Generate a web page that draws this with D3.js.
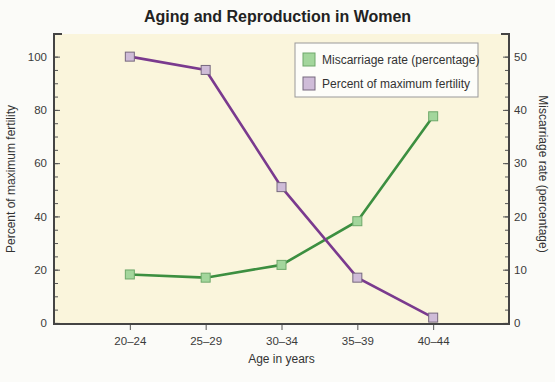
<!DOCTYPE html>
<html>
<head>
<meta charset="utf-8">
<script src="https://cdn.jsdelivr.net/npm/d3@7"></script>
<style>
  html, body { margin: 0; padding: 0; background: #fbfbf8; }
  svg { display: block; font-family: "Liberation Sans", Arial, sans-serif; }
</style>
</head>
<body>
<div id="chart"></div>
<script>
const ageGroups = ["20–24", "25–29", "30–34", "35–39", "40–44"];
const fertility = [100, 95, 51, 17, 2];
const miscarriage = [9.1, 8.5, 10.9, 19.1, 38.8];
const leftTicks = [0, 20, 40, 60, 80, 100];
const rightTicks = [0, 10, 20, 30, 40, 50];

const width = 555;
const height = 382;
const plot = { left: 54, right: 509, top: 34, bottom: 324 };

const svg = d3.select("#chart")
  .append("svg")
  .attr("width", width)
  .attr("height", height);

const x = d3.scalePoint()
  .domain(ageGroups)
  .range([plot.left, plot.right])
  .padding(1);

const yLeft = d3.scaleLinear()
  .domain([-0.4, 108.5])
  .range([plot.bottom, plot.top]);

const yRight = d3.scaleLinear()
  .domain([-0.2, 54.25])
  .range([plot.bottom, plot.top]);

svg.append("rect")
  .attr("x", plot.left)
  .attr("y", plot.top)
  .attr("width", plot.right - plot.left)
  .attr("height", plot.bottom - plot.top)
  .attr("fill", "#faf5dc");

// title
svg.append("text")
  .attr("x", width / 2)
  .attr("y", 22)
  .attr("text-anchor", "middle")
  .attr("font-size", 16)
  .attr("font-weight", "bold")
  .attr("fill", "#222")
  .text("Aging and Reproduction in Women");

const styleAxis = (g) => {
  g.select(".domain").remove();
  g.selectAll(".tick line").attr("stroke", "#555");
  g.selectAll(".tick text").attr("fill", "#3a3a3a").attr("font-size", 11.5);
};

// minor ticks
svg.append("g")
  .attr("transform", `translate(${plot.left},0)`)
  .call(d3.axisRight(yLeft).tickValues(d3.range(0, 105, 5)).tickSize(4).tickFormat(""))
  .call(styleAxis);

svg.append("g")
  .attr("transform", `translate(${plot.right},0)`)
  .call(d3.axisLeft(yRight).tickValues(d3.range(0, 52.5, 2.5)).tickSize(4).tickFormat(""))
  .call(styleAxis);

// major ticks (inside) + labels (outside)
svg.append("g")
  .attr("transform", `translate(${plot.left},0)`)
  .call(d3.axisRight(yLeft).tickValues(leftTicks).tickSize(6).tickFormat(""))
  .call(styleAxis);

svg.append("g")
  .attr("transform", `translate(${plot.left},0)`)
  .call(d3.axisLeft(yLeft).tickValues(leftTicks).tickSize(0).tickPadding(7))
  .call(styleAxis);

svg.append("g")
  .attr("transform", `translate(${plot.right},0)`)
  .call(d3.axisLeft(yRight).tickValues(rightTicks).tickSize(6).tickFormat(""))
  .call(styleAxis);

svg.append("g")
  .attr("transform", `translate(${plot.right},0)`)
  .call(d3.axisRight(yRight).tickValues(rightTicks).tickSize(0).tickPadding(5))
  .call(styleAxis);

svg.append("g")
  .attr("transform", `translate(0,${plot.bottom})`)
  .call(d3.axisBottom(x).tickSize(6).tickPadding(7))
  .call(styleAxis);

// frame: left, right, bottom lines + top caps
const frame = svg.append("g").attr("stroke", "#444").attr("stroke-width", 2).attr("fill", "none");
frame.append("path")
  .attr("d", `M${plot.left + 8},${plot.top} H${plot.left} V${plot.bottom} H${plot.right} V${plot.top} H${plot.right - 8}`);

// axis titles
svg.append("text")
  .attr("transform", `translate(15,${(plot.top + plot.bottom) / 2}) rotate(-90)`)
  .attr("text-anchor", "middle")
  .attr("font-size", 12)
  .attr("fill", "#333")
  .text("Percent of maximum fertility");

svg.append("text")
  .attr("transform", `translate(539,${(plot.top + plot.bottom) / 2 - 5}) rotate(90)`)
  .attr("text-anchor", "middle")
  .attr("font-size", 12)
  .attr("fill", "#333")
  .text("Miscarriage rate (percentage)");

svg.append("text")
  .attr("x", x("30–34"))
  .attr("y", 363)
  .attr("text-anchor", "middle")
  .attr("font-size", 12)
  .attr("fill", "#333")
  .text("Age in years");

const series = [
  { label: "Miscarriage rate (percentage)", values: miscarriage, y: yRight, line: "#3c8f40", fill: "#a3d69c", stroke: "#6ea86a" },
  { label: "Percent of maximum fertility", values: fertility, y: yLeft, line: "#7a3a8e", fill: "#cfbcd8", stroke: "#76687e" },
];

series.forEach((s) => {
  const pts = ageGroups.map((g, i) => ({ g, v: s.values[i] }));
  const line = d3.line().x((d) => x(d.g)).y((d) => s.y(d.v));
  svg.append("path")
    .datum(pts)
    .attr("fill", "none")
    .attr("stroke", s.line)
    .attr("stroke-width", 2.6)
    .attr("d", line);
});

series.forEach((s) => {
  svg.append("g")
    .selectAll("rect")
    .data(ageGroups.map((g, i) => ({ g, v: s.values[i] })))
    .join("rect")
    .attr("x", (d) => x(d.g) - 4.5)
    .attr("y", (d) => s.y(d.v) - 4.5)
    .attr("width", 9)
    .attr("height", 9)
    .attr("fill", s.fill)
    .attr("stroke", s.stroke)
    .attr("stroke-width", 1);
});

// legend
const legend = svg.append("g").attr("transform", "translate(295,43)");
legend.append("rect")
  .attr("width", 183)
  .attr("height", 54)
  .attr("fill", "#fdfdf9")
  .attr("stroke", "#999")
  .attr("stroke-width", 1);

series.forEach((s, i) => {
  const row = legend.append("g").attr("transform", `translate(8,${10 + i * 24})`);
  row.append("rect")
    .attr("width", 12)
    .attr("height", 13)
    .attr("fill", s.fill)
    .attr("stroke", s.stroke)
    .attr("stroke-width", 1);
  row.append("text")
    .attr("x", 19)
    .attr("y", 11)
    .attr("font-size", 12)
    .attr("fill", "#333")
    .text(s.label);
});
</script>
</body>
</html>
